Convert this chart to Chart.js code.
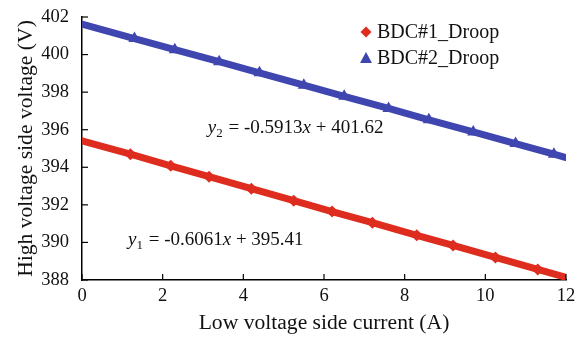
<!DOCTYPE html>
<html>
<head>
<meta charset="utf-8">
<script src="https://cdn.jsdelivr.net/npm/chart.js@4"></script>
<style>
  html, body { margin: 0; padding: 0; background: #fff; }
  #wrap { width: 583px; height: 339px; }
</style>
</head>
<body>
<div id="wrap"><canvas id="chart" width="583" height="339"></canvas></div>
<script>
// 数据
const seriesNames = ['BDC#1_Droop', 'BDC#2_Droop'];
const bdc1Current = [0, 1.2, 2.2, 3.15, 4.2, 5.25, 6.2, 7.2, 8.3, 9.2, 10.25, 11.3, 12];
const bdc1Voltage = [395.41, 394.7, 394.08, 393.5, 392.86, 392.22, 391.64, 391.05, 390.38, 389.84, 389.2, 388.56, 388.14];
const bdc2Current = [0, 1.3, 2.3, 3.4, 4.4, 5.5, 6.5, 7.6, 8.6, 9.7, 10.75, 11.7, 12];
const bdc2Voltage = [401.62, 400.85, 400.26, 399.62, 399.03, 398.37, 397.78, 397.13, 396.53, 395.88, 395.26, 394.7, 394.52];
const xTicks = [0, 2, 4, 6, 8, 10, 12];
const yTicks = [388, 390, 392, 394, 396, 398, 400, 402];
const fitLabels = [
  { sub: '2', slope: '-0.5913', icpt: '401.62', x: 3.12, y: 395.83 },
  { sub: '1', slope: '-0.6061', icpt: '395.41', x: 1.14, y: 389.87 }
];

const RED = 'rgb(222, 44, 30)';
const BLUE = 'rgb(64, 70, 176)';
const SERIF = '"Liberation Serif", "Times New Roman", serif';

function toPoints(xs, ys) {
  return xs.map((x, i) => ({ x: x, y: ys[i] }));
}

// 端点不画标记
function innerRadius(r) {
  return function(ctx) {
    const n = ctx.dataset.data.length;
    return (ctx.dataIndex === 0 || ctx.dataIndex === n - 1) ? 0 : r;
  };
}

// 内侧刻度 + 图例 + 拟合公式
const extrasPlugin = {
  id: 'extras',
  afterDraw(chart) {
    const ctx = chart.ctx;
    const area = chart.chartArea;
    const xs = chart.scales.x;
    const ys = chart.scales.y;

    ctx.save();
    ctx.strokeStyle = '#000';
    ctx.lineWidth = 1.2;
    xTicks.forEach(v => {
      const px = xs.getPixelForValue(v);
      ctx.beginPath();
      ctx.moveTo(px, area.bottom);
      ctx.lineTo(px, area.bottom - 6);
      ctx.stroke();
    });
    yTicks.forEach(v => {
      const py = ys.getPixelForValue(v);
      ctx.beginPath();
      ctx.moveTo(area.left, py);
      ctx.lineTo(area.left + 6, py);
      ctx.stroke();
    });

    // 图例
    const lx = area.left + 284;
    const ly = [area.top + 15, area.top + 41];
    ctx.fillStyle = RED;
    ctx.beginPath();
    ctx.moveTo(lx, ly[0] - 5.5);
    ctx.lineTo(lx + 5.5, ly[0]);
    ctx.lineTo(lx, ly[0] + 5.5);
    ctx.lineTo(lx - 5.5, ly[0]);
    ctx.closePath();
    ctx.fill();
    ctx.fillStyle = BLUE;
    ctx.beginPath();
    ctx.moveTo(lx, ly[1] - 6);
    ctx.lineTo(lx + 6, ly[1] + 5);
    ctx.lineTo(lx - 6, ly[1] + 5);
    ctx.closePath();
    ctx.fill();
    ctx.fillStyle = '#111';
    ctx.font = '20px ' + SERIF;
    ctx.textBaseline = 'middle';
    ctx.textAlign = 'left';
    seriesNames.forEach((name, i) => ctx.fillText(name, lx + 11, ly[i] + 1));

    // 拟合公式
    ctx.textBaseline = 'alphabetic';
    fitLabels.forEach(f => {
      let px = xs.getPixelForValue(f.x);
      const py = ys.getPixelForValue(f.y);
      ctx.font = 'italic 19px ' + SERIF;
      ctx.fillText('y', px, py);
      px += ctx.measureText('y').width;
      ctx.font = '13px ' + SERIF;
      ctx.fillText(f.sub, px, py + 4);
      px += ctx.measureText(f.sub).width + 1;
      ctx.font = '19px ' + SERIF;
      const a = ' = ' + f.slope;
      ctx.fillText(a, px, py);
      px += ctx.measureText(a).width;
      ctx.font = 'italic 19px ' + SERIF;
      ctx.fillText('x', px, py);
      px += ctx.measureText('x').width;
      ctx.font = '19px ' + SERIF;
      ctx.fillText(' + ' + f.icpt, px, py);
    });
    ctx.restore();
  }
};

new Chart(document.getElementById('chart'), {
  type: 'scatter',
  data: {
    datasets: [
      {
        label: seriesNames[0],
        data: toPoints(bdc1Current, bdc1Voltage),
        showLine: true,
        borderColor: RED,
        backgroundColor: RED,
        borderWidth: 7,
        borderCapStyle: 'round',
        pointStyle: 'rectRot',
        pointRadius: innerRadius(6),
        pointBorderWidth: 0,
        pointHoverRadius: 0
      },
      {
        label: seriesNames[1],
        data: toPoints(bdc2Current, bdc2Voltage),
        showLine: true,
        borderColor: BLUE,
        backgroundColor: BLUE,
        borderWidth: 7,
        borderCapStyle: 'round',
        pointStyle: 'triangle',
        pointRadius: innerRadius(7),
        pointBorderWidth: 0,
        pointHoverRadius: 0
      }
    ]
  },
  options: {
    responsive: false,
    animation: false,
    layout: { padding: { top: 17, right: 17, left: 0, bottom: 0 } },
    plugins: {
      legend: { display: false },
      tooltip: { enabled: false }
    },
    scales: {
      x: {
        type: 'linear',
        min: 0,
        max: 12,
        afterFit: s => { s.height = 59; },
        afterBuildTicks: s => { s.ticks = xTicks.map(v => ({ value: v })); },
        grid: { display: false },
        border: { display: true, color: '#000', width: 1.5 },
        ticks: { color: '#111', font: { family: SERIF, size: 18.5 }, padding: -3, maxRotation: 0 },
        title: {
          display: true,
          text: 'Low voltage side current (A)',
          color: '#111',
          font: { family: SERIF, size: 21.6 },
          padding: { top: 0, bottom: 3 }
        }
      },
      y: {
        type: 'linear',
        min: 388,
        max: 402,
        afterFit: s => { s.width = 82; },
        afterBuildTicks: s => { s.ticks = yTicks.map(v => ({ value: v })); },
        grid: { display: false },
        border: { display: true, color: '#000', width: 1.5 },
        ticks: { color: '#111', font: { family: SERIF, size: 18.5 }, padding: 5 },
        title: {
          display: true,
          text: 'High voltage side voltage (V)',
          color: '#111',
          font: { family: SERIF, size: 21.6 },
          padding: { top: 13, bottom: 0 }
        }
      }
    }
  },
  plugins: [extrasPlugin]
});
</script>
</body>
</html>
